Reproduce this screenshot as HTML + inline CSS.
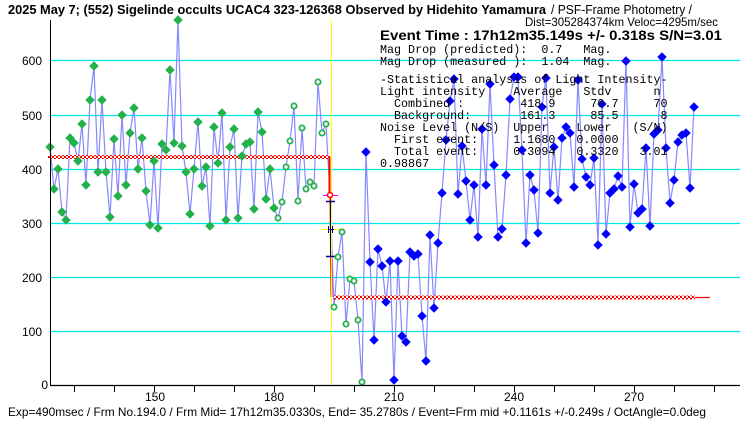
<!DOCTYPE html>
<html><head><meta charset="utf-8"><style>
html,body{margin:0;padding:0;background:#fff;}
svg{display:block;}
.m{font-family:"Liberation Mono",monospace;font-size:11.7px;white-space:pre;fill:#000;}
</style></head><body>
<svg id="s" width="740" height="425" xmlns="http://www.w3.org/2000/svg">
<defs>
<pattern id="chk" width="4" height="4" patternUnits="userSpaceOnUse">
<rect width="4" height="4" fill="#fff"/><rect width="2" height="2" fill="#f00"/><rect x="2" y="2" width="2" height="2" fill="#f00"/>
</pattern>
</defs>
<rect width="740" height="425" fill="#fff"/>
<g stroke="#00e8e8" stroke-width="1.2">
<line x1="50" y1="60.5" x2="740" y2="60.5"/><line x1="50" y1="115.5" x2="740" y2="115.5"/>
<line x1="50" y1="169.5" x2="740" y2="169.5"/><line x1="50" y1="223.5" x2="740" y2="223.5"/>
<line x1="50" y1="277.5" x2="740" y2="277.5"/><line x1="50" y1="331.5" x2="740" y2="331.5"/>
</g>
<g id="plot"></g>
<line x1="50.5" y1="20" x2="50.5" y2="386" stroke="#000" stroke-width="1"/>
<line x1="50" y1="385.5" x2="740" y2="385.5" stroke="#000" stroke-width="1.2"/>
<g id="ticks" stroke="#000"></g>
<g font-family="Liberation Sans,sans-serif" font-size="12" text-anchor="end">
<text x="42" y="65">600</text><text x="42" y="120">500</text><text x="42" y="174">400</text>
<text x="42" y="228">300</text><text x="42" y="282">200</text><text x="42" y="336">100</text><text x="48" y="389">0</text>
</g>
<g font-family="Liberation Sans,sans-serif" font-size="12" text-anchor="middle">
<text x="155" y="401">150</text><text x="274" y="401">180</text><text x="394" y="401">210</text>
<text x="514" y="401">240</text><text x="634" y="401">270</text>
</g>
<text x="8" y="14" font-family="Liberation Sans,sans-serif" font-size="13" font-weight="bold" textLength="538" lengthAdjust="spacingAndGlyphs">2025 May 7; (552) Sigelinde occults UCAC4 323-126368 Observed by Hidehito Yamamura</text>
<text x="551" y="14" font-family="Liberation Sans,sans-serif" font-size="13" textLength="141" lengthAdjust="spacingAndGlyphs">/ PSF-Frame Photometry /</text>
<text x="525" y="26" font-family="Liberation Sans,sans-serif" font-size="12" textLength="193" lengthAdjust="spacingAndGlyphs">Dist=305284374km Veloc=4295m/sec</text>
<rect x="378" y="28" width="345" height="12" fill="#fff"/>
<text x="380" y="40" font-family="Liberation Sans,sans-serif" font-size="13.5" font-weight="bold" textLength="342" lengthAdjust="spacingAndGlyphs">Event Time : 17h12m35.149s  +/- 0.318s  S/N=3.01</text>
<text class="m" x="380" y="53">Mag Drop (predicted):  0.7   Mag.</text>
<text class="m" x="380" y="65">Mag Drop (measured ):  1.04  Mag.</text>
<text class="m" x="380" y="83">-Statistical analysis of Light Intensity-</text>
<text class="m" x="380" y="95">Light intensity    Average   Stdv      n</text>
<text class="m" x="380" y="107">  Combined :        418.9     79.7     70</text>
<text class="m" x="380" y="119">  Background:       161.3     85.5      8</text>
<text class="m" x="380" y="131">Noise Level (N/S)  Upper    Lower   (S/N)</text>
<text class="m" x="380" y="143">  First event:     1.1680   0.0000</text>
<text class="m" x="380" y="155">  Total event:     0.3094   0.3320   3.01</text>
<text class="m" x="380" y="167">0.98867</text>
<text x="8" y="416" font-family="Liberation Sans,sans-serif" font-size="12" textLength="698" lengthAdjust="spacingAndGlyphs">Exp=490msec / Frm No.194.0 / Frm Mid= 17h12m35.0330s,  End= 35.2780s / Event=Frm mid +0.1161s +/-0.249s / OctAngle=0.0deg</text>
</svg>
<script>
var NS="http://www.w3.org/2000/svg",P=document.getElementById("plot"),T=document.getElementById("ticks");
function el(n,a,p){var e=document.createElementNS(NS,n);for(var k in a)e.setAttribute(k,a[k]);(p||P).appendChild(e);return e;}
for(var x=74;x<740;x+=40)el("line",{x1:x+.5,y1:386,x2:x+.5,y2:392},T);
var G=[[50,147],[54,189],[58,169],[62,212],[66,220],[70,138],[74,143],[78,161],[82,124],[86,185],[90,100],[94,66],[98,172],[102,100],[106,172],[110,217],[114,139],[118,196],[122,115],[126,185],[130,133],[134,108],[138,169],[142,138],[146,191],[150,225],[154,161],[158,228],[162,144],[166,150],[170,70],[174,143],[178,20],[182,146],[186,172],[190,214],[194,169],[198,122],[202,186],[206,167],[210,226],[214,127],[218,163],[222,113],[226,220],[230,147],[234,129],[238,218],[242,156],[246,144],[250,142],[254,209],[258,112],[262,132],[266,199],[270,169],[274,208]];
var O=[[278,218],[282,202],[286,167],[290,141],[294,106],[298,201],[302,128],[306,189],[310,182],[314,186],[318,82],[322,133],[326,124],[334,307],[338,257],[342,232],[346,324],[350,279],[354,281],[358,320],[362,382]];
var B=[[366,152],[370,262],[374,340],[378,249],[382,266],[386,302],[390,261],[394,380],[398,261],[402,336],[406,342],[410,252],[414,256],[418,254],[422,316],[426,361],[430,235],[434,308],[438,243],[442,193],[446,140],[450,101],[454,79],[458,194],[462,146],[466,181],[470,220],[474,185],[478,237],[482,129],[486,185],[490,84],[494,165],[498,237],[502,229],[506,175],[510,99],[514,77],[518,77],[522,150],[526,243],[530,175],[534,190],[538,233],[542,107],[546,78],[550,193],[554,147],[558,200],[562,138],[566,127],[570,133],[574,187],[578,80],[582,159],[586,177],[590,185],[594,158],[598,245],[602,104],[606,234],[610,193],[614,189],[618,176],[622,187],[626,61],[630,227],[634,184],[638,213],[642,209],[646,148],[650,226],[654,134],[658,130],[662,57],[666,148],[670,203],[674,180],[678,142],[682,135],[686,133],[690,188],[694,107]];
var all=G.concat(O.slice(0,13)).concat([[330,195]]).concat(O.slice(13)).concat(B);
el("polyline",{points:all.map(function(p){return p.join(",")}).join(" "),fill:"none",stroke:"#8888ff","stroke-width":1.2});
// red averages
el("rect",{x:48,y:155,width:282,height:4,fill:"url(#chk)"});
el("rect",{x:334,y:295.5,width:361,height:4,fill:"url(#chk)"});
el("line",{x1:695,y1:297.5,x2:710,y2:297.5,stroke:"#f00","stroke-width":1.2});
el("line",{x1:329.5,y1:157,x2:329.5,y2:195,stroke:"#f00","stroke-width":2});
el("line",{x1:330.5,y1:195,x2:331.5,y2:297,stroke:"#f00","stroke-width":2});
// yellow
el("line",{x1:331.5,y1:20,x2:331.5,y2:385,stroke:"#ffff00","stroke-width":1});
el("line",{x1:319,y1:229.5,x2:343,y2:229.5,stroke:"#ffff00","stroke-width":1});
// error bar
el("line",{x1:330.5,y1:201,x2:330.5,y2:257,stroke:"#00008b","stroke-width":1});
el("line",{x1:326,y1:201.5,x2:335,y2:201.5,stroke:"#00008b","stroke-width":1.5});
el("line",{x1:326,y1:256.5,x2:335,y2:256.5,stroke:"#00008b","stroke-width":1.5});
el("line",{x1:328,y1:229.5,x2:334,y2:229.5,stroke:"#00008b","stroke-width":1});
el("line",{x1:328.5,y1:226,x2:328.5,y2:233,stroke:"#00008b","stroke-width":1});
el("line",{x1:332.5,y1:226,x2:332.5,y2:233,stroke:"#00008b","stroke-width":1});
el("line",{x1:323,y1:195.5,x2:338,y2:195.5,stroke:"#ff00ff","stroke-width":1});
el("circle",{cx:330,cy:195,r:2.5,fill:"#fff",stroke:"#f00","stroke-width":1.5});
function dia(x,y,fill,stroke){el("polygon",{points:(x)+","+(y-4)+" "+(x+4)+","+y+" "+x+","+(y+4)+" "+(x-4)+","+y,fill:fill,stroke:stroke,"stroke-width":1});}
G.forEach(function(p){dia(p[0],p[1],"#22b14c","#22b14c");});
O.forEach(function(p){el("circle",{cx:p[0],cy:p[1],r:2.6,fill:"#fff",stroke:"#22b14c","stroke-width":1.8});});
B.forEach(function(p){dia(p[0],p[1],"#0000ff","#0000ff");});
</script>
</body></html>
